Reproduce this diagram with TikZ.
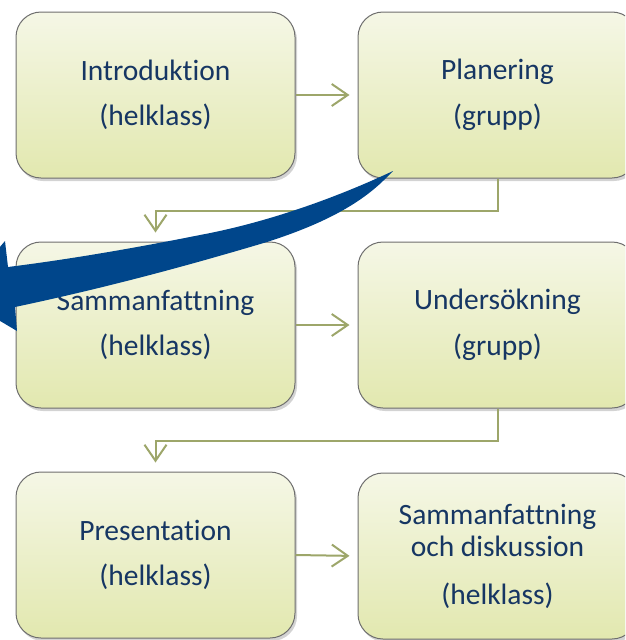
\documentclass[tikz,border=0pt]{standalone}
\usepackage{fontspec}
\setmainfont[Ligatures=NoCommon]{Carlito}
\usetikzlibrary{arrows.meta,shadows}
\definecolor{boxtop}{HTML}{F5F7E6}
\definecolor{boxbot}{HTML}{E2E8AF}
\definecolor{boxline}{HTML}{6E6E6E}
\definecolor{txt}{HTML}{163663}
\definecolor{olive}{HTML}{9DA66A}
\definecolor{bigblue}{HTML}{00468B}
\tikzset{
  stagebox/.style={draw=boxline, line width=1pt, rounded corners=25pt,
    top color=boxtop, bottom color=boxbot,
    minimum width=279pt, minimum height=166pt, align=center, text=txt,
    font=\fontsize{29.5}{45.5}\selectfont,
    drop shadow={opacity=0.35, shadow xshift=2pt, shadow yshift=-3pt}},
  conn/.style={draw=olive, line width=2pt,
    -{Straight Barb[length=16pt,width=22pt,line width=2pt]}},
}
\begin{document}
\begin{tikzpicture}[x=1pt,y=-1pt]
\useasboundingbox (0,0) rectangle (625,640);
\clip (0,0) rectangle (625,640);
\node[stagebox] (b1) at (155.5,95) {Introduktion\\(helklass)};
\node[stagebox] (b2) at (497.5,95) {Planering\\(grupp)};
\node[stagebox] (b3) at (155.5,325) {Sammanfattning\\(helklass)};
\node[stagebox] (b4) at (497.5,325) {Undersökning\\(grupp)};
\node[stagebox] (b5) at (155.5,555) {Presentation\\(helklass)};
\node[stagebox, font=\fontsize{29.5}{32}\selectfont] (b6) at (497.5,556) {Sammanfattning\\och diskussion\\[16pt](helklass)};
\draw[conn, shorten >=8pt] (b1.east) -- (b2.west);
\draw[conn, shorten >=8pt] (b3.east) -- (b4.west);
\draw[conn, shorten >=8pt] (b5.east) -- (b6.west);
\draw[conn, shorten >=9pt] (b2.south) -- ++(0,32) -| (b3.north);
\draw[conn, shorten >=9pt] (b4.south) -- ++(0,32) -| (b5.north);
\fill[bigblue] (393,171) .. controls (340,196) and (270,222) .. (200,235)
  .. controls (150,245) and (80,258) .. (8,267)
  -- (5,241) -- (-42,296) -- (17,331) -- (15,307)
  .. controls (100,289) and (180,268) .. (267,242)
  .. controls (320,225) and (360,205) .. (387,177) -- cycle;
\end{tikzpicture}
\end{document}
